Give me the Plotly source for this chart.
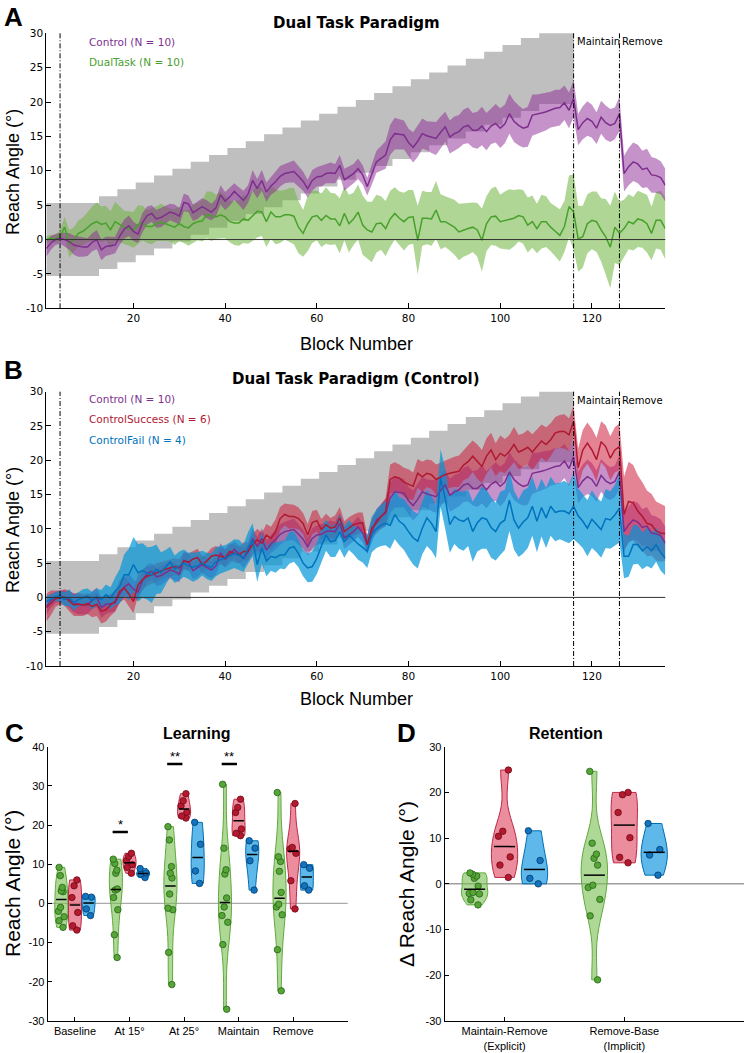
import plotly.graph_objects as go
import numpy as np

# ---------------------------------------------------------------- data (panels A/B)
blocks = list(range(1, 137))

ctrl_mean = [-1.3, -0.5, 0.0, 0.2, 0.0, -0.3, -0.8, -1.0, -1.1, -1.1,
             -0.4, 0.0, -1.5, -1.0, -0.9, -0.8, 0.5, 1.5, 2.0, 1.2,
             0.8, 2.5, 3.5, 3.8, 3.0, 3.2, 3.6, 4.0, 3.8, 3.4,
             5.4, 5.2, 3.9, 4.3, 4.8, 4.4, 4.0, 4.6, 6.5, 5.6,
             6.2, 7.0, 6.3, 5.7, 6.6, 8.6, 7.4, 8.6, 6.9, 7.8,
             8.4, 9.2, 9.6, 9.8, 9.9, 9.2, 8.5, 7.4, 8.6, 9.1,
             9.2, 9.6, 9.7, 9.6, 10.8, 8.7, 9.1, 9.6, 10.3, 9.4,
             7.7, 9.5, 11.3, 11.8, 12.3, 14.5, 15.4, 15.3, 15.2, 14.1,
             13.4, 14.3, 15.4, 15.1, 14.9, 14.7, 15.6, 16.4, 14.9, 15.4,
             15.7, 16.4, 16.6, 15.9, 15.9, 16.5, 15.7, 16.5, 16.9, 16.2,
             16.8, 18.3, 17.2, 16.6, 16.2, 16.4, 18.1, 18.2, 18.4, 18.6,
             18.9, 19.1, 19.2, 19.9, 18.8, 20.5, 16.0, 17.0, 17.6, 17.2,
             16.2, 17.8, 17.0, 16.6, 16.9, 18.3, 9.6, 10.6, 11.3, 11.0,
             10.2, 10.4, 9.4, 9.3, 9.0, 7.9]
ctrl_sem = [1.2, 1.0, 0.8, 0.8, 1.0, 1.2, 1.4, 1.5, 1.4, 1.3,
            1.3, 1.4, 1.5, 1.4, 1.3, 1.2, 1.3, 1.4, 1.5, 1.4,
            1.3, 1.4, 1.3, 1.2, 1.3, 1.4, 1.3, 1.2, 1.3, 1.2,
            1.3, 1.2, 1.2, 1.3, 1.2, 1.3, 1.2, 1.3, 1.4, 1.3,
            1.3, 1.2, 1.3, 1.4, 1.3, 1.5, 1.4, 1.5, 1.4, 1.3,
            1.4, 1.5, 1.4, 1.5, 1.6, 1.5, 1.4, 1.3, 1.5, 1.4,
            1.5, 1.4, 1.5, 1.4, 1.5, 1.6, 1.5, 1.4, 1.5, 1.4,
            1.3, 1.5, 1.6, 1.8, 2.0, 2.2, 2.3, 2.2, 2.1, 2.0,
            2.2, 2.3, 2.2, 2.1, 2.3, 2.4, 2.3, 2.2, 2.4, 2.5,
            2.4, 2.5, 2.6, 2.5, 2.7, 2.8, 2.7, 2.6, 2.8, 2.9,
            2.8, 2.9, 3.0, 2.9, 2.8, 2.9, 3.0, 2.9, 2.8, 2.7,
            2.6, 2.7, 2.6, 2.5, 2.6, 2.7, 2.3, 2.4, 2.5, 2.4,
            2.3, 2.4, 2.5, 2.4, 2.3, 2.5, 2.6, 2.7, 2.8, 2.8,
            2.7, 2.8, 2.6, 2.5, 2.4, 2.4]

dual_mean = [0.0, 0.2, 0.1, 0.5, 1.8, -0.6, 0.0, 0.9, 1.2, 1.8,
             2.3, 2.6, 2.2, 2.4, 1.4, 2.6, 2.2, 1.8, 1.6, 1.4,
             2.2, 2.4, 1.9, 1.9, 2.3, 2.5, 2.3, 2.1, 1.8, 2.3,
             1.9, 1.7, 2.3, 2.6, 2.7, 3.6, 3.4, 3.3, 3.6, 3.3,
             2.6, 2.4, 2.4, 3.0, 2.8, 3.4, 4.1, 4.0, 2.6, 4.0,
             3.3, 3.3, 3.6, 3.6, 3.4, 1.8, 0.9, 2.3, 3.3, 3.5,
             2.8, 3.5, 3.0, 3.0, 2.0, 3.8, 2.3, 3.0, 4.0, 2.1,
             1.4, 1.1, 2.3, 2.4, 1.6, 3.0, 3.8, 3.1, 2.6, 3.2,
             3.3, -0.1, 3.1, 3.1, 3.0, 4.3, 2.6, 2.6, 2.2, 1.8,
             1.1, 1.4, 1.6, 1.8, 1.4, -0.1, 2.3, 3.3, 3.4, 2.6,
             2.8, 2.9, 3.1, 3.5, 3.3, 2.1, 2.6, 1.6, 2.6, 2.6,
             1.8, 1.2, 0.6, 1.9, 4.8, 4.0, 0.1, 0.4, 2.3, 2.8,
             2.6, 1.4, 0.4, -1.1, 1.8, 0.9, 1.6, 2.6, 2.3, 3.0,
             2.8, 2.3, 0.9, 2.8, 2.8, 1.6]
dual_sem = [0.5, 0.5, 0.6, 0.8, 1.5, 2.0, 1.8, 1.9, 2.0, 2.2,
            2.5, 2.8, 2.6, 2.5, 2.7, 2.9, 2.6, 2.4, 2.5, 2.6,
            2.8, 2.5, 2.4, 2.6, 2.5, 2.7, 2.5, 2.4, 2.6, 2.5,
            2.4, 2.6, 2.8, 2.7, 3.0, 3.4, 3.6, 3.2, 3.4, 3.1,
            3.0, 3.2, 3.3, 3.5, 3.4, 3.6, 3.8, 3.5, 3.7, 3.9,
            4.0, 3.8, 3.6, 3.9, 4.1, 3.8, 3.4, 4.0, 3.8, 3.6,
            3.9, 4.1, 3.8, 3.7, 4.0, 3.9, 4.2, 3.8, 4.0, 4.3,
            4.1, 4.4, 4.2, 3.9, 4.0, 4.1, 3.8, 3.9, 4.2, 4.0,
            3.9, 5.0, 4.0, 3.8, 3.9, 4.2, 4.0, 3.7, 3.8, 4.0,
            4.1, 3.9, 3.8, 3.6, 3.9, 4.6, 4.0, 4.1, 4.3, 3.9,
            4.2, 4.4, 4.1, 3.8, 3.9, 4.0, 3.8, 3.6, 3.9, 3.7,
            3.5, 3.6, 3.8, 3.7, 4.5, 5.5, 4.8, 4.5, 4.3, 4.2,
            4.4, 4.6, 5.5, 6.0, 5.2, 4.6, 4.2, 4.0, 3.9, 4.1,
            4.0, 4.2, 3.9, 4.1, 4.3, 4.5]

succ_mean = [-1.5, -0.8, -0.2, 0.0, 0.0, -0.5, -1.1, -1.0, -1.1, -0.9,
             -1.3, -1.0, -2.0, -1.8, -1.1, -0.6, 0.9, 1.4, 0.5, -0.6,
             1.8, 2.6, 3.1, 3.3, 3.6, 3.9, 4.1, 4.3, 4.5, 4.3,
             5.3, 5.1, 5.6, 5.8, 4.8, 5.3, 6.0, 6.2, 6.0, 5.8,
             6.7, 6.4, 6.2, 6.7, 6.7, 7.7, 8.4, 7.9, 9.1, 8.6,
             9.6, 11.5, 12.1, 11.8, 11.8, 11.5, 10.8, 9.1, 10.9, 11.2,
             9.9, 10.6, 10.1, 10.3, 11.6, 9.6, 10.1, 10.6, 10.8, 10.9,
             7.7, 10.1, 10.9, 11.8, 12.5, 17.2, 17.6, 17.4, 16.8, 16.5,
             16.2, 18.1, 17.6, 18.1, 17.9, 17.2, 17.6, 17.9, 18.1, 18.3,
             18.4, 19.3, 19.8, 20.6, 19.8, 19.1, 20.6, 21.5, 20.1, 21.0,
             20.6, 21.3, 22.3, 21.2, 21.5, 21.9, 21.2, 22.0, 22.8, 22.3,
             23.0, 24.0, 24.2, 24.2, 23.7, 25.7, 18.9, 21.5, 22.5, 21.5,
             20.1, 22.7, 22.0, 20.3, 21.5, 22.0, 12.1, 14.0, 13.8, 12.6,
             11.8, 10.8, 10.6, 9.7, 9.4, 9.3]
succ_sem = [2.0, 1.8, 1.2, 1.0, 1.2, 1.5, 1.6, 1.7, 1.6, 1.5,
            1.6, 1.7, 1.8, 1.7, 1.6, 1.5, 1.6, 1.7, 1.8, 1.7,
            1.6, 1.5, 1.4, 1.3, 1.4, 1.3, 1.2, 1.3, 1.2, 1.3,
            1.2, 1.3, 1.2, 1.3, 1.2, 1.1, 1.2, 1.3, 1.2, 1.3,
            1.2, 1.3, 1.2, 1.3, 1.4, 1.5, 1.6, 1.5, 1.6, 1.7,
            1.8, 1.7, 1.6, 1.8, 1.7, 1.6, 1.5, 1.6, 1.7, 1.6,
            1.5, 1.6, 1.5, 1.7, 1.6, 1.5, 1.6, 1.5, 1.6, 1.5,
            1.4, 1.5, 1.6, 1.8, 2.0, 2.2, 2.1, 2.0, 2.1, 2.2,
            2.0, 2.1, 2.2, 2.0, 2.1, 2.2, 2.1, 2.0, 2.1, 2.2,
            2.3, 2.2, 2.4, 2.3, 2.5, 2.4, 2.6, 2.5, 2.4, 2.6,
            2.5, 2.4, 2.6, 2.5, 2.4, 2.5, 2.6, 2.5, 2.4, 2.5,
            2.4, 2.3, 2.4, 2.5, 2.4, 2.3, 2.8, 2.9, 3.0, 3.1,
            3.2, 3.0, 3.1, 3.2, 3.3, 3.4, 5.5, 5.8, 5.5, 5.2,
            5.0, 4.8, 4.5, 4.3, 4.2, 4.0]

fail_mean = [-0.6, -0.2, 0.1, 0.2, -0.3, 0.0, -0.8, -0.3, 0.0, 0.2,
             -0.5, 0.1, -0.3, 0.4, -0.1, 0.9, 1.6, 3.3, 3.3, 4.8,
             3.6, 3.9, 3.5, 3.3, 4.1, 3.6, 4.4, 5.2, 4.1, 4.6,
             5.0, 4.6, 4.4, 4.6, 5.0, 4.6, 4.4, 5.2, 5.5, 5.7,
             6.0, 6.4, 6.2, 5.7, 7.2, 8.4, 4.8, 7.2, 5.3, 6.0,
             5.8, 6.2, 6.2, 7.2, 7.4, 6.4, 5.0, 4.3, 4.5, 5.7,
             7.5, 9.1, 8.1, 8.3, 9.6, 8.1, 9.1, 8.4, 7.8, 7.3,
             6.7, 9.2, 10.0, 10.5, 10.8, 10.5, 12.1, 11.1, 10.6, 9.6,
             8.7, 8.2, 10.1, 11.6, 10.8, 9.6, 17.4, 14.4, 10.6, 11.8,
             11.3, 11.1, 11.6, 9.6, 10.9, 11.6, 11.4, 10.2, 9.6, 10.8,
             11.3, 14.2, 11.3, 10.1, 11.0, 11.6, 13.3, 11.1, 13.1, 11.6,
             13.3, 12.4, 12.6, 12.6, 12.2, 13.3, 11.9, 11.1, 10.1, 11.4,
             10.6, 9.9, 11.5, 11.3, 12.0, 13.0, 6.0, 6.0, 7.7, 7.7,
             6.8, 7.4, 6.8, 7.7, 6.5, 5.7]
fail_sem = [0.8, 0.7, 0.6, 0.8, 1.0, 1.2, 1.1, 1.0, 1.2, 1.1,
            1.3, 1.2, 1.4, 1.5, 1.6, 2.0, 2.5, 3.0, 3.8, 4.0,
            4.2, 4.0, 3.8, 4.1, 3.6, 3.0, 2.5, 2.2, 2.0, 2.1,
            2.0, 1.9, 2.1, 2.0, 1.8, 1.9, 2.0, 2.1, 2.0, 1.9,
            2.0, 2.1, 2.2, 2.0, 2.3, 2.4, 2.5, 2.3, 2.2, 2.1,
            2.2, 2.0, 2.1, 2.3, 2.2, 2.0, 1.9, 2.1, 2.2, 2.3,
            2.4, 2.3, 2.2, 2.4, 2.5, 2.3, 2.2, 2.1, 2.3, 2.2,
            2.4, 2.6, 2.8, 3.0, 3.2, 3.4, 3.6, 3.5, 3.7, 3.8,
            3.9, 4.0, 3.8, 4.1, 4.0, 3.9, 4.2, 4.4, 4.1, 4.0,
            4.2, 4.3, 4.1, 4.4, 4.2, 4.5, 4.3, 4.4, 4.2, 4.6,
            4.4, 4.5, 4.3, 4.2, 4.6, 4.4, 4.3, 4.5, 4.2, 4.4,
            4.3, 4.2, 4.1, 4.4, 4.3, 4.8, 4.0, 3.9, 4.1, 4.2,
            4.0, 4.1, 4.3, 4.2, 4.4, 5.0, 3.2, 3.0, 2.9, 2.8,
            2.7, 2.8, 2.6, 2.5, 2.6, 2.5]

# perturbation schedule (degrees) for blocks 1..116, and the shaded tolerance
rotation = [0] * 12 + [1] * 4 + [2] * 4 + [3] * 4 + [4] * 4 + [5] * 4 + [6] * 4 + \
           [7] * 4 + [8] * 4 + [9] * 4 + [10] * 4 + [11] * 4 + [12] * 4 + [13] * 4 + \
           [14] * 4 + [15] * 4 + [16] * 4 + [17] * 4 + [18] * 4 + [19] * 4 + [20] * 4 + \
           [21] * 4 + [22] * 4 + [23] * 4 + [24] * 4 + [25] * 8
rotation_tol = 5.3
phase_lines = [4, 116, 126]
phase_names = ["Maintain", "Remove"]

for arr in (ctrl_mean, ctrl_sem, dual_mean, dual_sem, succ_mean, succ_sem, fail_mean, fail_sem):
    assert len(arr) == 136, len(arr)
assert len(rotation) == 116

# ---------------------------------------------------------------- data (panels C/D)
learn_cats = ["Baseline", "At 15°", "At 25°", "Maintain", "Remove"]
learn_dual = [[9.2, 7.1, 4.1, 3.2, 3.0, -1.0, -2.0, -3.4, -4.4, -6.1],
              [11.3, 10.2, 8.5, 7.7, 3.7, 3.4, 1.5, -1.6, -8.0, -13.8],
              [19.6, 16.2, 9.4, 7.7, 6.5, 2.4, -1.2, -1.6, -12.5, -20.7],
              [30.4, 14.1, 8.6, 7.5, 1.4, -0.9, -3.1, -4.8, -10.5, -27.0],
              [28.3, 11.9, 10.7, 8.2, 2.8, -0.2, -0.9, -2.9, -11.8, -22.3]]
learn_succ = [[6.0, 4.5, 1.5, -2.3, -5.7, -6.8],
              [12.8, 12.0, 10.9, 9.9, 9.2, 7.7],
              [28.0, 26.2, 24.9, 23.3, 22.3, 21.8],
              [26.6, 24.5, 23.2, 19.0, 17.9, 17.3],
              [25.5, 14.3, 13.9, 12.8, 5.8, -1.4]]
learn_fail = [[1.8, 1.6, -1.4, -3.1],
              [8.9, 7.8, 7.5, 6.6],
              [20.7, 15.1, 8.3, 5.1],
              [16.0, 14.1, 10.9, 3.4],
              [9.9, 9.0, 4.5, 3.4]]
sig_cats = [2, 3, 4]
sig_labels = ["*", "**", "**"]
sig_levels = [18.2, 35.6, 35.6]

ret_cats = ["Maintain-Remove<br>(Explicit)", "Remove-Base<br>(Implicit)"]
ret_dual = [[2.4, 2.1, 1.7, 1.2, -0.5, -1.9, -2.1, -2.2, -3.5, -4.6],
            [24.6, 8.9, 6.5, 5.6, 4.1, -0.3, -0.8, -3.4, -7.0, -21.0]]
ret_succ = [[24.9, 11.5, 10.4, 5.9, 4.1, 1.4],
            [20.0, 19.5, 15.6, 10.1, 5.8, 4.6]]
ret_fail = [[11.6, 5.1, 1.2, 0.0],
            [13.2, 7.5, 6.3, 1.9]]

# ---------------------------------------------------------------- style
FW, FH = 744, 1053


def fx(p):
    return p / FW


def fy(p):
    return 1 - p / FH


PURPLE = "rgb(126,47,142)"
PURPLE_F = "rgba(140,40,150,0.5)"
GREEN = "rgb(72,160,45)"
GREEN_F = "rgba(110,180,60,0.55)"
RED = "rgb(175,25,50)"
RED_F = "rgba(205,30,60,0.55)"
BLUE = "rgb(0,114,189)"
BLUE_F = "rgba(0,150,215,0.7)"
GRAY_F = "rgb(191,191,191)"

DJ = "DejaVu Sans"
AR = "Liberation Sans, Arial"

fig = go.Figure()


def add_band(x, m, hw, fill, xa, ya, shape="linear"):
    up = [a + b for a, b in zip(m, hw)]
    lo = [a - b for a, b in zip(m, hw)]
    fig.add_trace(go.Scatter(x=list(x) + list(x)[::-1], y=up + lo[::-1], fill="toself",
                             fillcolor=fill, mode="lines", line=dict(width=0, color=fill, shape=shape),
                             hoverinfo="skip", showlegend=False, xaxis=xa, yaxis=ya))


def add_line(x, m, color, xa, ya):
    fig.add_trace(go.Scatter(x=x, y=m, mode="lines", line=dict(color=color, width=1.5),
                             hoverinfo="skip", showlegend=False, xaxis=xa, yaxis=ya))


rot_blocks = blocks[:len(rotation)]
rot_hw = [rotation_tol] * len(rotation)

# Panel A
add_band(rot_blocks, rotation, rot_hw, GRAY_F, "x", "y", shape="hvh")
add_band(blocks, dual_mean, dual_sem, GREEN_F, "x", "y")
add_band(blocks, ctrl_mean, ctrl_sem, PURPLE_F, "x", "y")
add_line(blocks, dual_mean, GREEN, "x", "y")
add_line(blocks, ctrl_mean, PURPLE, "x", "y")

# Panel B
add_band(rot_blocks, rotation, rot_hw, GRAY_F, "x2", "y2", shape="hvh")
add_band(blocks, ctrl_mean, ctrl_sem, PURPLE_F, "x2", "y2")
add_band(blocks, succ_mean, succ_sem, RED_F, "x2", "y2")
add_band(blocks, fail_mean, fail_sem, BLUE_F, "x2", "y2")
add_line(blocks, ctrl_mean, PURPLE, "x2", "y2")
add_line(blocks, succ_mean, RED, "x2", "y2")
add_line(blocks, fail_mean, BLUE, "x2", "y2")

# Violins
GROUPS = [
    ("rgba(120,190,80,0.6)", "rgb(95,170,60)", "rgb(85,165,55)", "rgb(40,100,25)", -0.25),
    ("rgba(225,80,105,0.65)", "rgb(190,40,70)", "rgb(180,25,45)", "rgb(110,10,25)", 0.0),
    ("rgba(40,160,225,0.75)", "rgb(0,110,180)", "rgb(20,115,190)", "rgb(0,60,110)", 0.25),
]


def add_violins(datasets, xa, ya, vwidth):
    med_x, med_y = [], []
    for gi, data in enumerate(datasets):
        fillc, linec, dotc, dotl, off = GROUPS[gi]
        for ci, vals in enumerate(data):
            pos = ci + 1 + off
            fig.add_trace(go.Violin(x=[pos] * len(vals), y=vals, width=vwidth, spanmode="hard",
                                    fillcolor=fillc, line=dict(color=linec, width=1),
                                    points="all", pointpos=0, jitter=0.55,
                                    marker=dict(size=6.5, color=dotc, line=dict(color=dotl, width=0.8)),
                                    hoverinfo="skip", showlegend=False, xaxis=xa, yaxis=ya))
            med = float(np.median(vals))
            med_x += [pos - vwidth * 0.4, pos + vwidth * 0.4, None]
            med_y += [med, med, None]
    fig.add_trace(go.Scatter(x=med_x, y=med_y, mode="lines", line=dict(color="black", width=1.5),
                             hoverinfo="skip", showlegend=False, xaxis=xa, yaxis=ya))


add_violins([learn_dual, learn_succ, learn_fail], "x3", "y3", 0.24)
add_violins([ret_dual, ret_succ, ret_fail], "x4", "y4", 0.22)

# ---------------------------------------------------------------- axes
base = dict(ticks="inside", ticklen=5, tickwidth=1, tickcolor="black", showline=True,
            linecolor="black", linewidth=1, showgrid=False, zeroline=False, mirror=False,
            automargin=False, fixedrange=True)
tf_dj = dict(family=DJ, size=10.5, color="black")
tf_ar = dict(family=AR, size=11, color="black")

ab_yvals = list(range(-10, 31, 5))
ab_ytext = [str(v) for v in ab_yvals]
xdom_ab = [fx(46.3), fx(665.3)]

fig.update_layout(
    xaxis=dict(base, domain=xdom_ab, range=[1, 136], tickvals=[20, 40, 60, 80, 100, 120],
               tickfont=tf_dj, anchor="y"),
    yaxis=dict(base, domain=[fy(308.3), fy(33.3)], range=[-10, 30], tickvals=ab_yvals,
               ticktext=ab_ytext, tickfont=tf_dj, anchor="x"),
    xaxis2=dict(base, domain=xdom_ab, range=[1, 136], tickvals=[20, 40, 60, 80, 100, 120],
                tickfont=tf_dj, anchor="y2"),
    yaxis2=dict(base, domain=[fy(666), fy(391.7)], range=[-10, 30], tickvals=ab_yvals,
                ticktext=ab_ytext, tickfont=tf_dj, anchor="x2"),
    xaxis3=dict(base, domain=[fx(47.7), fx(347.7)], range=[0.5, 6], tickvals=[1, 2, 3, 4, 5],
                ticktext=learn_cats, tickfont=tf_ar, anchor="y3", ticklen=4),
    yaxis3=dict(base, domain=[fy(1021), fy(746.7)], range=[-30, 40],
                tickvals=list(range(-30, 41, 10)), ticktext=[str(v) for v in range(-30, 41, 10)],
                tickfont=tf_ar, anchor="x3", ticklen=4),
    xaxis4=dict(base, domain=[fx(444.7), 1.0], range=[0.5, 3], tickvals=[1, 2],
                ticktext=ret_cats, tickfont=tf_ar, anchor="y4", ticklen=4),
    yaxis4=dict(base, domain=[fy(1021), fy(746.7)], range=[-30, 30],
                tickvals=list(range(-30, 31, 10)), ticktext=[str(v) for v in range(-30, 31, 10)],
                tickfont=tf_ar, anchor="x4", ticklen=4),
    violinmode="overlay", violingap=0, violingroupgap=0,
)

# ---------------------------------------------------------------- shapes
shapes = []
for xa, ya in (("x", "y"), ("x2", "y2")):
    shapes.append(dict(type="line", xref=f"{xa} domain", yref=ya, x0=0, x1=1, y0=0, y1=0,
                       line=dict(color="rgb(50,50,50)", width=1), layer="above"))
    for b in phase_lines:
        shapes.append(dict(type="line", xref=xa, yref=f"{ya} domain", x0=b, x1=b, y0=0, y1=1,
                           line=dict(color="black", width=1, dash="5px,2px,1px,2px"), layer="above"))
shapes.append(dict(type="line", xref="x3 domain", yref="y3", x0=0, x1=1, y0=0, y1=0,
                   line=dict(color="rgb(170,170,170)", width=1.2), layer="below"))
shapes.append(dict(type="line", xref="x4 domain", yref="y4", x0=0, x1=1, y0=0, y1=0,
                   line=dict(color="rgb(110,110,110)", width=1), layer="below"))
for c, lvl in zip(sig_cats, sig_levels):
    shapes.append(dict(type="line", xref="x3", yref="y3", x0=c - 0.31, x1=c - 0.03, y0=lvl, y1=lvl,
                       line=dict(color="black", width=2.5)))
fig.update_layout(shapes=shapes)

# ---------------------------------------------------------------- text
ann = []


def text(x, y, s, size, family=DJ, color="black", xanchor="center", yanchor="middle", angle=0, bold=False):
    ann.append(dict(x=x, y=y, xref="paper", yref="paper", text=(f"<b>{s}</b>" if bold else s),
                    showarrow=False, xanchor=xanchor, yanchor=yanchor, textangle=angle,
                    font=dict(family=family, size=size, color=color)))


# Panel A
text(fx(2), fy(17), "A", 26, AR, xanchor="left", bold=True)
text(fx(356), fy(23), "Dual Task Paradigm", 15, DJ, bold=True)
text(fx(87), fy(42), "Control (N = 10)", 10.5, DJ, PURPLE, xanchor="left")
text(fx(87), fy(62), "DualTask (N = 10)", 10.5, DJ, GREEN, xanchor="left")
text(fx(356), fy(344), "Block Number", 18, AR)
text(fx(13), fy(172), "Reach Angle (°)", 18, AR, angle=-90)
# Panel B
text(fx(2), fy(370), "B", 26, AR, xanchor="left", bold=True)
text(fx(356), fy(379), "Dual Task Paradigm (Control)", 15, DJ, bold=True)
text(fx(87), fy(399), "Control (N = 10)", 10.5, DJ, PURPLE, xanchor="left")
text(fx(87), fy(419), "ControlSuccess (N = 6)", 10.5, DJ, RED, xanchor="left")
text(fx(87), fy(440), "ControlFail (N = 4)", 10.5, DJ, BLUE, xanchor="left")
text(fx(356), fy(699), "Block Number", 18, AR)
text(fx(13), fy(530), "Reach Angle (°)", 18, AR, angle=-90)
# phase labels
for xa, ya in (("x", "y"), ("x2", "y2")):
    for b, name in zip(phase_lines[1:], phase_names):
        ann.append(dict(x=b, y=30, xref=xa, yref=ya, text=name, showarrow=False, xanchor="left",
                        yanchor="top", xshift=1, yshift=-1, font=dict(family=DJ, size=10, color="black")))
# Panel C
text(fx(3), fy(733), "C", 26, AR, xanchor="left", bold=True)
text(fx(197), fy(733), "Learning", 16, AR, bold=True)
text(fx(12), fy(884), "Reach Angle (°)", 21, AR, angle=-90)
for c, lbl, lvl in zip(sig_cats, sig_labels, sig_levels):
    ann.append(dict(x=c - 0.17, y=lvl, xref="x3", yref="y3", text=lbl, showarrow=False,
                    xanchor="center", yanchor="bottom", yshift=-2, font=dict(family=AR, size=13, color="black")))
# Panel D
text(fx(395), fy(733), "D", 26, AR, xanchor="left", bold=True)
text(fx(566), fy(733), "Retention", 16, AR, bold=True)
text(fx(406), fy(884), "Δ Reach Angle (°)", 21, AR, angle=-90)

fig.update_layout(annotations=ann, width=FW, height=FH, autosize=False,
                  margin=dict(l=0, r=0, t=0, b=0, pad=0), template="none",
                  paper_bgcolor="white", plot_bgcolor="rgba(0,0,0,0)", showlegend=False)

fig.write_html("out.html", config={"displayModeBar": False, "staticPlot": True},
               post_script="document.body.style.margin='0';document.body.style.overflow='hidden';")
